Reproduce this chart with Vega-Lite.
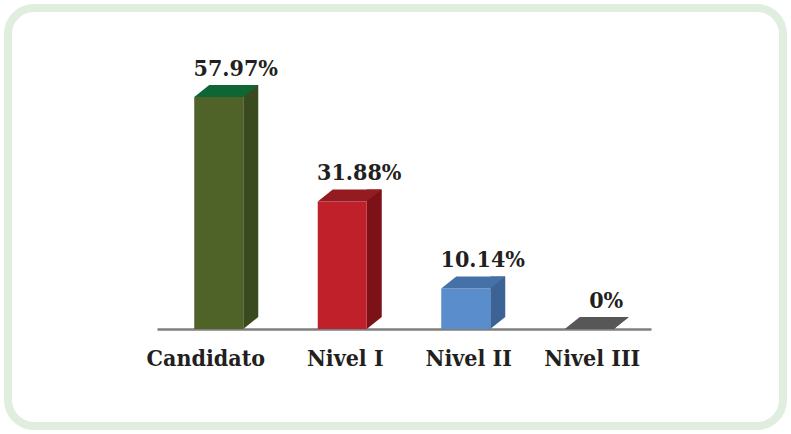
{
  "$schema": "https://vega.github.io/schema/vega-lite/v6.json",
  "width": 775,
  "height": 418,
  "autosize": {"type": "none"},
  "padding": 8,
  "background": "white",
  "config": {
    "view": {"stroke": "#dfeedf", "strokeWidth": 8, "cornerRadius": 26},
    "axis": {"grid": false}
  },
  "data": {
    "values": [
      {"nivel": "Candidato", "pct": 57.97, "label": "57.97%"},
      {"nivel": "Nivel I", "pct": 31.88, "label": "31.88%"},
      {"nivel": "Nivel II", "pct": 10.14, "label": "10.14%"},
      {"nivel": "Nivel III", "pct": 0, "label": "0%"}
    ]
  },
  "encoding": {
    "x": {
      "field": "nivel",
      "type": "nominal",
      "sort": null,
      "scale": {"range": [149, 643], "paddingInner": 0, "paddingOuter": 0},
      "axis": {
        "title": null,
        "labelAngle": 0,
        "ticks": false,
        "offset": -97,
        "domainColor": "#7f7f7f",
        "domainWidth": 2.5,
        "labelFont": "DejaVu Serif Condensed, DejaVu Serif",
        "labelFontSize": 23,
        "labelFontWeight": "bold",
        "labelColor": "#231f20",
        "labelPadding": 18,
        "labelOffset": {"condition": {"test": "datum.value === 'Candidato'", "value": -13}, "value": 3}
      }
    }
  },
  "layer": [
    {
      "mark": {"type": "bar", "width": 15, "xOffset": 32, "yOffset": -12, "y2Offset": -12},
      "encoding": {
        "y": {"field": "pct", "type": "quantitative", "scale": {"domain": [0, 60], "range": [321, 81]}, "axis": null},
        "color": {"field": "nivel", "type": "nominal", "legend": null,
          "scale": {"domain": ["Candidato", "Nivel I", "Nivel II", "Nivel III"], "range": ["#3a4a1f", "#7c1118", "#3b6396", "#333333"]}}
      }
    },
    {
      "mark": {"type": "point", "shape": "M 24.5 0 L 24.5 -12 L 39.5 -12 Z", "size": 4, "filled": true, "opacity": 1, "strokeWidth": 0},
      "encoding": {
        "y": {"datum": 0, "type": "quantitative"},
        "color": {"field": "nivel", "type": "nominal", "legend": null,
          "scale": {"domain": ["Candidato", "Nivel I", "Nivel II", "Nivel III"], "range": ["#3a4a1f", "#7c1118", "#3b6396", "#333333"]}}
      }
    },
    {
      "mark": {"type": "bar", "width": 49},
      "encoding": {
        "y": {"field": "pct", "type": "quantitative"},
        "color": {"field": "nivel", "type": "nominal", "legend": null,
          "scale": {"domain": ["Candidato", "Nivel I", "Nivel II", "Nivel III"], "range": ["#4f6228", "#c0202a", "#5a8dcb", "#444444"]}}
      }
    },
    {
      "mark": {"type": "point", "shape": "M -24.5 0 L -9.5 -12 L 39.5 -12 L 24.5 0 Z", "size": 4, "filled": true, "opacity": 1, "strokeWidth": 0},
      "encoding": {
        "y": {"field": "pct", "type": "quantitative"},
        "color": {"field": "nivel", "type": "nominal", "legend": null,
          "scale": {"domain": ["Candidato", "Nivel I", "Nivel II", "Nivel III"], "range": ["#0f6634", "#951b21", "#4671a8", "#575757"]}}
      }
    },
    {
      "mark": {"type": "text", "dx": 17, "dy": -21, "baseline": "alphabetic", "align": "center", "font": "DejaVu Serif Condensed, DejaVu Serif", "fontSize": 23, "fontWeight": "bold", "color": "#231f20"},
      "encoding": {
        "y": {"field": "pct", "type": "quantitative"},
        "text": {"field": "label"}
      }
    }
  ],
  "resolve": {"scale": {"color": "independent"}}
}
